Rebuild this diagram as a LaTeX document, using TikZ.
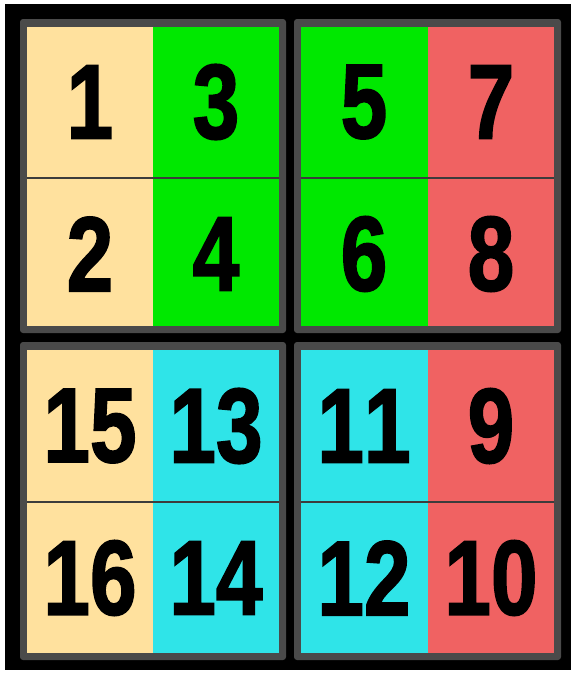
\documentclass[tikz,border=0pt]{standalone}
\usepackage{fontspec}
\setmainfont[Kerning=Off]{Liberation Sans}
\definecolor{beige}{HTML}{FFE19E}
\definecolor{grn}{HTML}{00E800}
\definecolor{salmon}{HTML}{F06262}
\definecolor{cyn}{HTML}{2FE4E8}
\definecolor{frame}{HTML}{4A4A4A}
\definecolor{divline}{HTML}{3C3C3C}
\tikzset{
  num/.style={inner sep=0pt, font=\fontsize{106}{106}\selectfont\bfseries},
  quadframe/.style={fill=frame, rounded corners=3pt},
}
\newcommand{\dg}[1]{\scalebox{0.79}[1]{\special{pdf:literal direct 2 Tr 2 w}#1\special{pdf:literal direct 0 Tr}}}
\begin{document}
\begin{tikzpicture}[x=1pt,y=-1pt]
\useasboundingbox (0,0) rectangle (571,673);
\fill[white] (0,0) rectangle (571,673);
\fill[black] (5,4) rectangle (571,670);
% frames
\foreach \xa/\ya/\xb/\yb in {27/27/279/326, 301/27/554/326, 27/350/279/653, 301/350/554/653}{
  \fill[quadframe] (\xa-7,\ya-8) rectangle (\xb+7,\yb+7);
}
% top-left
\fill[beige] (27,27) rectangle (153,326);
\fill[grn] (153,27) rectangle (279,326);
\draw[divline, line width=2pt] (27,178) -- (279,178);
% top-right
\fill[grn] (301,27) rectangle (428,326);
\fill[salmon] (428,27) rectangle (554,326);
\draw[divline, line width=2pt] (301,178) -- (554,178);
% bottom-left
\fill[beige] (27,350) rectangle (153,653);
\fill[cyn] (153,350) rectangle (279,653);
\draw[divline, line width=2pt] (27,502) -- (279,502);
% bottom-right
\fill[cyn] (301,350) rectangle (428,653);
\fill[salmon] (428,350) rectangle (554,653);
\draw[divline, line width=2pt] (301,502) -- (554,502);
% numbers
\node[num] (n1) at (90,102) {\dg{1}};
\node[num] (n3) at (216,102) {\dg{3}};
\node[num] (n2) at (90,254) {\dg{2}};
\node[num] (n4) at (216,254) {\dg{4}};
\node[num] (n5) at (364,102) {\dg{5}};
\node[num] (n7) at (491,102) {\dg{7}};
\node[num] (n6) at (364,254) {\dg{6}};
\node[num] (n8) at (491,254) {\dg{8}};
\node[num] (n15) at (90,426) {\dg{15}};
\node[num] (n13) at (216,426) {\dg{13}};
\node[num] (n16) at (90,578) {\dg{16}};
\node[num] (n14) at (216,578) {\dg{14}};
\node[num] (n11) at (364,426) {\dg{11}};
\node[num] (n9) at (491,426) {\dg{9}};
\node[num] (n12) at (364,578) {\dg{12}};
\node[num] (n10) at (491,578) {\dg{10}};
\end{tikzpicture}
\end{document}
